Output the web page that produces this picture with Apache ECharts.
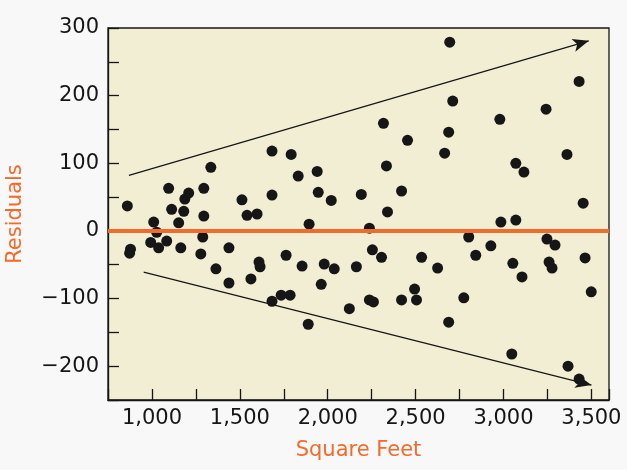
<!DOCTYPE html>
<html>
<head>
<meta charset="utf-8">
<script src="https://cdn.jsdelivr.net/npm/echarts@6/dist/echarts.min.js"></script>
<style>
html,body{margin:0;padding:0;background:#f8f8f8;}
#chart{width:627px;height:470px;}
</style>
</head>
<body>
<div id="chart"></div>
<script>
// Square feet (x) and residuals (y)
const sqft = [860,878,873,1010,1027,993,1038,1084,1095,1112,1152,1164,1181,1187,1209,1295,1295,1289,1278,1335,1364,
  1683,1792,1512,1683,1541,1598,1832,1940,1946,2020,1894,2191,2334,2420,2340,2237,1438,1438,1563,1609,1615,1763,1854,1980,2037,1963,2163,2254,2306,2534,1683,1735,1786,2123,2237,2260,2420,2494,2505,1889,2317,2454,
  2694,3430,2711,3242,2979,2688,2665,3361,3070,3116,3453,2985,3070,2802,2928,3247,3293,2625,2842,3053,3259,3276,3105,3464,2774,3499,2688,3047,3367,3430];
const residuals = [37,-27,-33,13,-2,-17,-25,-15,63,32,12,-25,29,47,56,63,22,-9,-34,94,-56,
  118,113,46,53,23,25,81,88,57,45,10,54,96,59,28,4,-25,-77,-71,-46,-53,-36,-52,-49,-56,-79,-53,-28,-39,-39,-104,-95,-95,-115,-102,-105,-102,-86,-102,-138,159,134,
  279,221,192,180,165,146,115,113,100,87,41,13,16,-9,-22,-12,-21,-55,-36,-48,-46,-55,-68,-40,-99,-90,-135,-182,-200,-219];
// Trend arrows (start, end) in data units
const arrowUpper = [[869, 82], [3485, 281]];
const arrowLower = [[953, -61], [3500, -228]];
// Zero reference line
const zeroLine = [[750, 0], [3600, 0]];
const xTicksLabeled = [1000, 1500, 2000, 2500, 3000, 3500];
const yTicksLabeled = [-200, -100, 0, 100, 200, 300];

const ORANGE = '#f26a2c';
const INK = '#161616';
const FONT = 'DejaVu Sans';

const points = sqft.map((x, i) => [x, residuals[i]]);

const chart = echarts.init(document.getElementById('chart'), null, {renderer: 'canvas'});
chart.setOption({
  animation: false,
  backgroundColor: '#f8f8f8',
  grid: {
    left: 108, top: 28, right: 18, bottom: 70,
    containLabel: false, outerBoundsMode: 'none',
    show: true, backgroundColor: '#f1eed3', borderColor: INK, borderWidth: 1.3
  },
  xAxis: {
    type: 'value', min: 750, max: 3600, interval: 250,
    name: 'Square Feet', nameLocation: 'middle', nameGap: 40,
    nameTextStyle: {color: ORANGE, fontFamily: FONT, fontSize: 21},
    axisLine: {show: true, onZero: false, lineStyle: {color: INK, width: 1.3}},
    axisTick: {show: true, inside: true, length: 11, lineStyle: {color: INK, width: 1.3}},
    splitLine: {show: false},
    axisLabel: {
      margin: 8, color: INK, fontFamily: FONT, fontSize: 21,
      formatter: v => xTicksLabeled.includes(v) ? v.toLocaleString('en-US') : ''
    }
  },
  yAxis: {
    type: 'value', min: -250, max: 300, interval: 50,
    name: 'Residuals', nameLocation: 'middle', nameGap: 82,
    nameTextStyle: {color: ORANGE, fontFamily: FONT, fontSize: 21},
    axisLine: {show: true, onZero: false, lineStyle: {color: INK, width: 1.3}},
    axisTick: {show: true, inside: true, length: 11, lineStyle: {color: INK, width: 1.3}},
    splitLine: {show: false},
    axisLabel: {
      margin: 9, color: INK, fontFamily: FONT, fontSize: 21,
      showMaxLabel: true,
      formatter: v => yTicksLabeled.includes(v) ? (v < 0 ? '\u2212' + Math.abs(v) : String(v)) : ''
    }
  },
  series: [
    {
      type: 'scatter', data: points, symbol: 'circle', symbolSize: 11,
      itemStyle: {color: INK, opacity: 1}, z: 2, silent: true
    },
    {
      type: 'line', data: zeroLine, z: 3, silent: true, clip: true,
      symbol: 'none', showSymbol: false,
      lineStyle: {color: ORANGE, width: 4, type: 'solid', opacity: 1}
    },
    {
      type: 'scatter', data: [], z: 4, silent: true,
      itemStyle: {color: INK},
      markLine: {
        silent: true, symbol: ['none', 'arrow'], symbolSize: [10, 16],
        label: {show: false},
        itemStyle: {color: INK},
        lineStyle: {color: INK, width: 1.2, type: 'solid', opacity: 1},
        data: [
          [{coord: arrowUpper[0]}, {coord: arrowUpper[1]}],
          [{coord: arrowLower[0]}, {coord: arrowLower[1]}]
        ]
      }
    }
  ]
});
</script>
</body>
</html>
